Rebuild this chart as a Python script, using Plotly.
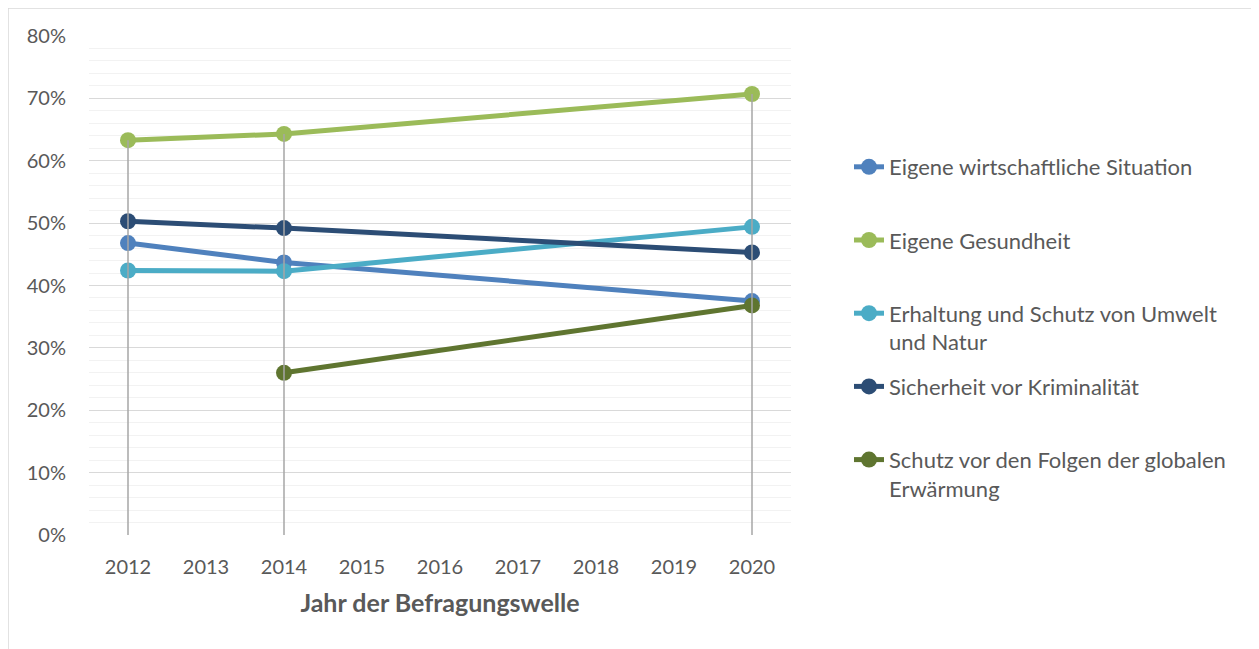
import plotly.graph_objects as go

years = ["2012", "2013", "2014", "2015", "2016", "2017", "2018", "2019", "2020"]

wirtschaft = [0.468, None, 0.437, None, None, None, None, None, 0.375]
gesundheit = [0.633, None, 0.643, None, None, None, None, None, 0.707]
umwelt = [0.424, None, 0.423, None, None, None, None, None, 0.494]
kriminalitaet = [0.503, None, 0.492, None, None, None, None, None, 0.453]
erwaermung = [None, None, 0.260, None, None, None, None, None, 0.368]

series_names = [
    "Eigene wirtschaftliche Situation",
    "Eigene Gesundheit",
    "Erhaltung und Schutz von Umwelt<br>und Natur",
    "Sicherheit vor Kriminalität",
    "Schutz vor den Folgen der globalen<br>Erwärmung",
]
series_values = [wirtschaft, gesundheit, umwelt, kriminalitaet, erwaermung]
colors = ["#4F81BD", "#9BBB59", "#4BACC6", "#2C4D75", "#5F7530"]

FONT = "Lato"
TXT = "#595959"

fig = go.Figure()
for i, (name, vals, col) in enumerate(zip(series_names, series_values, colors)):
    label = name if "<br>" in name else name + "<br> "
    xs = [y for y, v in zip(years, vals) if v is not None]
    ys = [v for v in vals if v is not None]
    fig.add_trace(go.Scatter(
        x=xs, y=ys, name=label, mode="lines+markers",
        line=dict(color=col, width=5),
        marker=dict(color=col, size=16),
        legendgroup=f"g{i}",
    ))

# drop lines: from highest value to axis at each year with data
for yi, yr in enumerate(years):
    vals = [s[yi] for s in series_values if s[yi] is not None]
    if vals:
        fig.add_trace(go.Scatter(
            x=[yr, yr], y=[0, max(vals)], mode="lines",
            line=dict(color="#A6A6A6", width=1.5),
            showlegend=False, hoverinfo="skip",
        ))

OFF = 8  # page body margin
W, H = 1259 - OFF, 649 - OFF
L, T = 89 - OFF, 36 - OFF
pw, ph = 702, 499
R, B = W - L - pw, H - T - ph

def px_x(px):
    return (px - OFF - L) / pw

def px_y(py):
    return (H - B - (py - OFF)) / ph

fig.update_layout(
    width=W, height=H,
    margin=dict(l=L, r=R, t=T, b=B),
    paper_bgcolor="white", plot_bgcolor="white",
    font=dict(family=FONT, size=20, color=TXT),
    xaxis=dict(
        type="category", categoryorder="array", categoryarray=years,
        range=[-0.5, len(years) - 0.5],
        showgrid=False, zeroline=False, showline=False,
        ticks="", ticklabelstandoff=18,
        tickfont=dict(family=FONT, size=20, color=TXT),
        title=dict(text="<b>Jahr der Befragungswelle</b>", standoff=17,
                   font=dict(family=FONT, size=25, color=TXT)),
    ),
    yaxis=dict(
        range=[0, 0.8], dtick=0.1, tick0=0, tickformat=".0%",
        showgrid=True, gridcolor="#D9D9D9", gridwidth=1.3,
        zeroline=False, showline=False, ticks="",
        ticklabelstandoff=22,
        tickfont=dict(family=FONT, size=20, color=TXT),
        minor=dict(dtick=0.02, showgrid=True, gridcolor="#F2F2F2", gridwidth=1.3),
    ),
    legend=dict(
        x=px_x(849), y=px_y(146), xanchor="left", yanchor="top",
        font=dict(family=FONT, size=22, color=TXT),
        valign="top", tracegroupgap=13, itemwidth=30,
        bgcolor="rgba(0,0,0,0)",
    ),
    shapes=[dict(
        type="rect", xref="paper", yref="paper",
        x0=px_x(8.0), x1=px_x(1275), y0=px_y(665), y1=px_y(8.0),
        line=dict(color="#D9D9D9", width=1.5), fillcolor="rgba(0,0,0,0)",
        layer="below",
    )],
)

fig.write_html("out.html")
